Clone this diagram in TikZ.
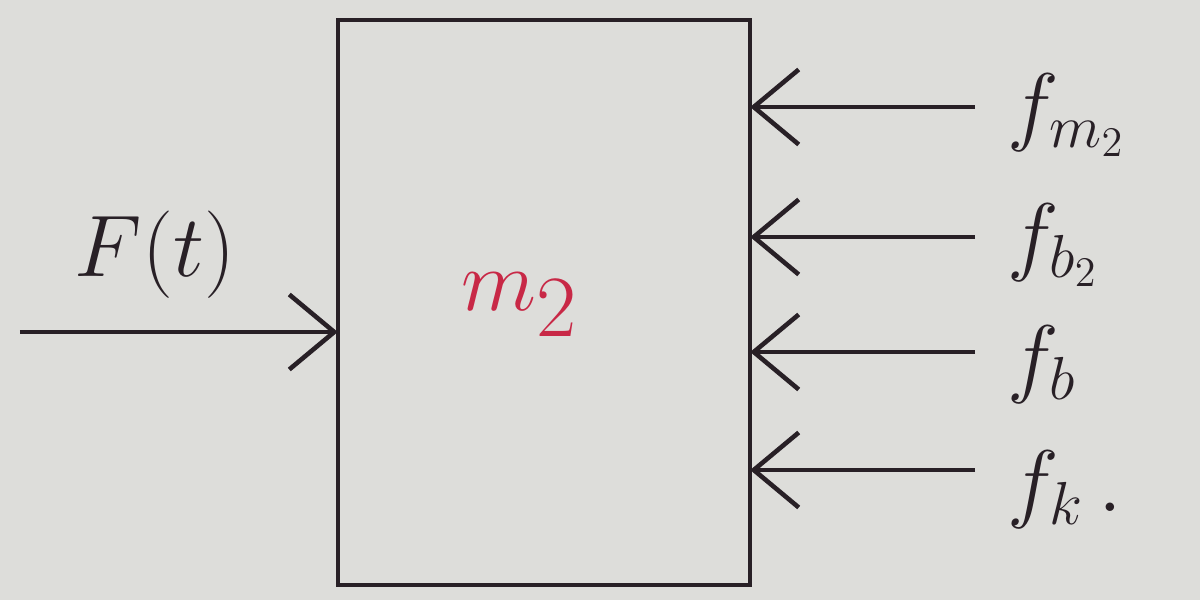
\documentclass[tikz,border=0pt]{standalone}
\usepackage{amsmath}
\usetikzlibrary{arrows.meta}
\definecolor{paper}{RGB}{221,221,218}
\definecolor{ink}{RGB}{40,32,38}
\definecolor{redink}{RGB}{200,40,70}

\begin{document}
\begin{tikzpicture}[
  force/.style={ink,line width=1.3pt,-{Straight Barb[length=4.5mm,width=7.5mm,line width=1.3pt]}},
  lbl/.style={ink,font=\fontsize{26}{28}\selectfont}
]
\fill[paper] (0,0) rectangle (12,6);
\useasboundingbox (0,0) rectangle (12,6);

% the mass block
\node[draw=ink,line width=1.3pt,minimum width=4.12cm,minimum height=5.65cm,inner sep=0pt] (m2) at (5.44,2.975) {};
\node[text=redink,font=\fontsize{36}{38}\selectfont] (mname) at (5.2,2.95) {$m_2$};

% applied force
\coordinate (Fs) at (0.2,2.68);
\draw[force] (Fs) -- ([xshift=0.6pt]Fs -| m2.west);
\node[lbl,font=\fontsize{30}{32}\selectfont] (Flbl) at (1.55,3.45) {$F(t)$};

% opposing forces
\coordinate (fm) at (9.75,4.93);
\coordinate (fbb) at (9.75,3.63);
\coordinate (fb) at (9.75,2.48);
\coordinate (fk) at (9.75,1.30);
\draw[force] (fm) -- ([xshift=-0.6pt]fm -| m2.east);
\draw[force] (fbb) -- ([xshift=-0.6pt]fbb -| m2.east);
\draw[force] (fb) -- ([xshift=-0.6pt]fb -| m2.east);
\draw[force] (fk) -- ([xshift=-0.6pt]fk -| m2.east);

\node[lbl,anchor=west] (fmlbl) at (9.95,4.85) {$f_{m_2}$};
\node[lbl,anchor=west] (fbblbl) at (9.95,3.55) {$f_{b_2}$};
\node[lbl,anchor=west] (fblbl) at (9.95,2.35) {$f_b$};
\node[lbl,anchor=west] (fklbl) at (9.95,1.10) {$f_k\,.$};

\end{tikzpicture}
\end{document}
